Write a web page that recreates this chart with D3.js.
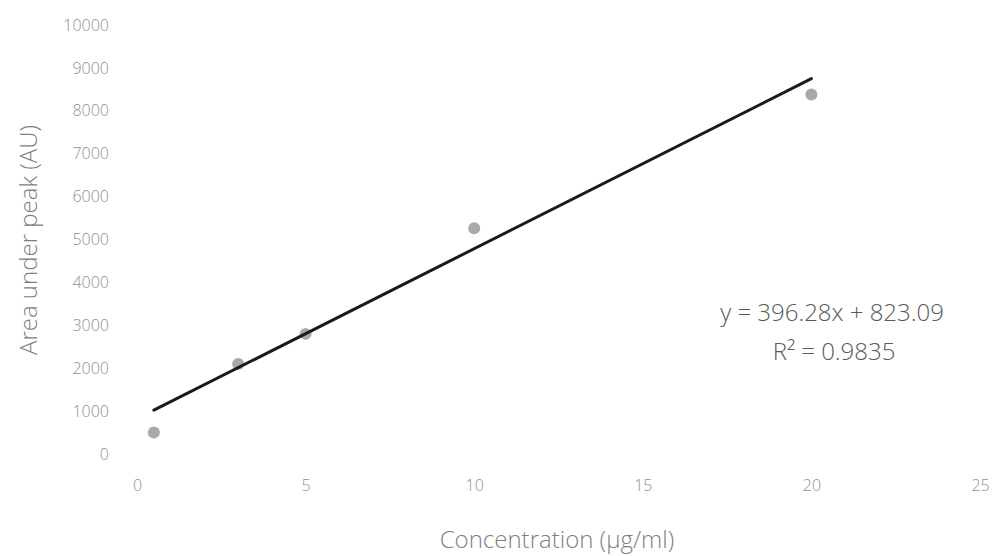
<!DOCTYPE html>
<html>
<head>
<meta charset="utf-8">
<script src="https://cdnjs.cloudflare.com/ajax/libs/d3/7.8.5/d3.min.js"></script>
<style>
  body { margin: 0; background: #fff; }
  svg text { font-family: "Open Sans", "DejaVu Sans", sans-serif; font-weight: 300; }
</style>
</head>
<body>
<svg id="chart" width="993" height="556"></svg>
<script>
var svgWidth = 993;
var svgHeight = 556;

// data
var concentration = [0.5, 3, 5, 10, 20];
var peakArea = [500, 2100, 2800, 5260, 8380];
var xTicks = [0, 5, 10, 15, 20, 25];
var yTicks = [0, 1000, 2000, 3000, 4000, 5000, 6000, 7000, 8000, 9000, 10000];
var slope = 396.28;
var intercept = 823.09;
var equationText = "y = 396.28x + 823.09";
var r2Text = "R\u00B2 = 0.9835";

var svg = d3.select("#chart");

var x = d3.scaleLinear().domain([0, 25]).range([137, 980]);
var y = d3.scaleLinear().domain([0, 10000]).range([454, 25]);

// y axis (labels only)
var yAxis = svg.append("g")
  .attr("transform", "translate(109,0)")
  .call(d3.axisLeft(y).tickValues(yTicks).tickFormat(d3.format("d")).tickSize(0).tickPadding(0));
yAxis.select(".domain").remove();
yAxis.selectAll("text")
  .attr("fill", "#8f8f8f")
  .style("font-size", "16px");

// x axis (labels only)
var xAxis = svg.append("g")
  .attr("transform", "translate(0,480)")
  .call(d3.axisBottom(x).tickValues(xTicks).tickSize(0).tickPadding(0));
xAxis.select(".domain").remove();
xAxis.selectAll("text")
  .attr("fill", "#8f8f8f")
  .style("font-size", "16px");

// points
svg.append("g")
  .selectAll("circle")
  .data(concentration)
  .enter()
  .append("circle")
  .attr("cx", function(d, i){ return x(d); })
  .attr("cy", function(d, i){ return y(peakArea[i]); })
  .attr("r", 6)
  .attr("fill", "#a9a9a9");

// linear trendline over the data range
var xMin = d3.min(concentration), xMax = d3.max(concentration);
svg.append("line")
  .attr("x1", x(xMin))
  .attr("y1", y(slope * xMin + intercept))
  .attr("x2", x(xMax))
  .attr("y2", y(slope * xMax + intercept))
  .attr("stroke", "#1a1a1a")
  .attr("stroke-width", 3)
  .attr("stroke-linecap", "round");

// equation
svg.append("text")
  .attr("x", 832).attr("y", 321)
  .attr("text-anchor", "middle")
  .attr("fill", "#595959")
  .style("font-size", "24px")
  .text(equationText);
svg.append("text")
  .attr("x", 834).attr("y", 360)
  .attr("text-anchor", "middle")
  .attr("fill", "#595959")
  .style("font-size", "24px")
  .text(r2Text);

// axis titles
svg.append("text")
  .attr("x", 557).attr("y", 548)
  .attr("text-anchor", "middle")
  .attr("fill", "#7f7f7f")
  .style("font-size", "24px")
  .text("Concentration (\u00B5g/ml)");

svg.append("text")
  .attr("transform", "translate(37,240) rotate(-90)")
  .attr("text-anchor", "middle")
  .attr("fill", "#7f7f7f")
  .style("font-size", "24px")
  .text("Area under peak (AU)");
</script>
</body>
</html>
